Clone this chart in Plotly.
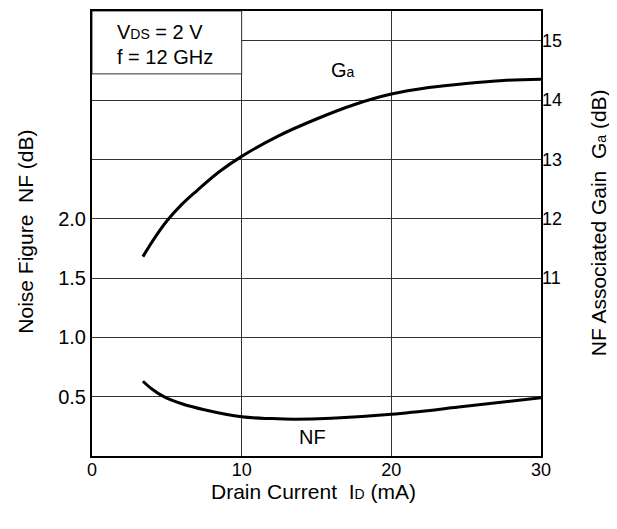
import plotly.graph_objects as go

# ---- data ----
ga_current = [3.4, 4.2, 5.0, 6.0, 7.0, 8.5, 10.0, 12.5, 15.0, 17.5, 20.0, 22.5, 25.0, 27.5, 30.0]
ga_values = [11.36, 11.68, 11.96, 12.24, 12.47, 12.79, 13.05, 13.40, 13.68, 13.92, 14.10, 14.21,
             14.28, 14.33, 14.35]

nf_current = [3.4, 4.0, 4.8, 6.0, 7.5, 10.0, 12.0, 13.5, 16.0, 20.0, 24.5, 30.0]
nf_values = [0.63, 0.565, 0.50, 0.44, 0.39, 0.33, 0.315, 0.31, 0.318, 0.352, 0.412, 0.49]

x_ticks = [0, 10, 20, 30]
nf_grid = [0.5, 1.0, 1.5, 2.0, 2.5, 3.0, 3.5]
nf_labels = ["0.5", "1.0", "1.5", "2.0", "", "", ""]
ga_ticks = [11, 12, 13, 14, 15]

FONT = "Liberation Sans, Arial, sans-serif"
GRID = "#333333"


def small(t, size):
    return "<span style='font-size:%dpx'>%s</span>" % (size, t)


fig = go.Figure()
fig.add_trace(go.Scatter(x=nf_current, y=nf_values, mode="lines",
                         line=dict(color="black", width=3, shape="spline"),
                         yaxis="y", showlegend=False, hoverinfo="skip"))
fig.add_trace(go.Scatter(x=ga_current, y=ga_values, mode="lines",
                         line=dict(color="black", width=3, shape="spline"),
                         yaxis="y2", showlegend=False, hoverinfo="skip"))

# white condition box in the top-left cell
fig.add_shape(type="rect", xref="x", yref="y", x0=0, x1=10, y0=3.22, y1=3.75,
              fillcolor="white", line=dict(color=GRID, width=1), layer="above")

fig.update_layout(
    width=609, height=521, autosize=False,
    margin=dict(l=83.5, r=76, t=1, b=73, pad=0),
    paper_bgcolor="white", plot_bgcolor="white",
    font=dict(family=FONT, size=18, color="black"),
    xaxis=dict(range=[0, 30], tickvals=x_ticks, showgrid=True, gridcolor=GRID, gridwidth=1,
               showline=True, linecolor="black", linewidth=2, mirror=True,
               ticks="", zeroline=False, tickfont=dict(size=18), ticklabelstandoff=-4),
    yaxis=dict(range=[0, 3.75], tickvals=nf_grid, ticktext=nf_labels, showgrid=True,
               gridcolor=GRID, gridwidth=1, showline=True, linecolor="black", linewidth=2,
               mirror=True, ticks="", zeroline=False, tickfont=dict(size=20)),
    yaxis2=dict(range=[8, 15.5], tickvals=ga_ticks, overlaying="y", side="right",
                showgrid=False, zeroline=False, ticks="", showline=False,
                tickfont=dict(size=18)),
    annotations=[
        dict(text="V" + small("DS", 14) + " = 2 V", xref="x", yref="y", x=1.55, y=3.574,
             xanchor="left", yanchor="middle", showarrow=False, font=dict(size=20)),
        dict(text="f = 12 GHz", xref="x", yref="y", x=1.55, y=3.365,
             xanchor="left", yanchor="middle", showarrow=False, font=dict(size=20)),
        dict(text="G" + small("a", 14), xref="x", yref="y", x=16.75, y=3.25,
             xanchor="center", yanchor="middle", showarrow=False, font=dict(size=20)),
        dict(text="NF", xref="x", yref="y", x=14.7, y=0.163,
             xanchor="center", yanchor="middle", showarrow=False, font=dict(size=20)),
        dict(text="Noise Figure  NF (dB)", xref="paper", yref="paper", x=-0.148, y=0.503,
             xanchor="center", yanchor="middle", textangle=-90, showarrow=False,
             font=dict(size=21)),
        dict(text="NF Associated Gain  G" + small("a", 14) + " (dB)", xref="paper",
             yref="paper", x=1.127, y=0.523, xanchor="center", yanchor="middle",
             textangle=-90, showarrow=False, font=dict(size=21)),
        dict(text="Drain Current  I" + small("D", 14) + " (mA)", xref="paper", yref="paper",
             x=0.493, y=-0.0805, xanchor="center", yanchor="middle", showarrow=False,
             font=dict(size=21)),
    ],
)

fig.write_html("out.html")
